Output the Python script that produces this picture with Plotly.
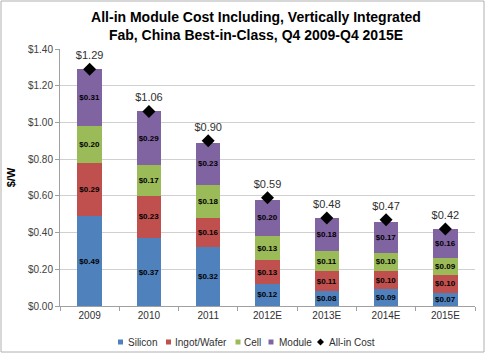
import plotly.graph_objects as go

years = ["2009", "2010", "2011", "2012E", "2013E", "2014E", "2015E"]
silicon = [0.49, 0.37, 0.32, 0.12, 0.08, 0.09, 0.07]
ingot = [0.29, 0.23, 0.16, 0.13, 0.11, 0.10, 0.10]
cell = [0.20, 0.17, 0.18, 0.13, 0.11, 0.10, 0.09]
module = [0.31, 0.29, 0.23, 0.20, 0.18, 0.17, 0.16]
allin = [1.29, 1.06, 0.90, 0.59, 0.48, 0.47, 0.42]

series = [("Silicon", silicon, "#4F81BD"), ("Ingot/Wafer", ingot, "#C0504D"),
          ("Cell", cell, "#9BBB59"), ("Module", module, "#8064A2")]

FONT = "Liberation Sans, Arial, sans-serif"
W, H = 486, 354
L, R, T, B = 60, 11, 49, 48
PW, PH = W - L - R, H - T - B

def px(x):
    return (x - L) / PW

def py(y):
    return (H - B - y) / PH

fig = go.Figure()
for name, vals, col in series:
    fig.add_trace(go.Bar(
        x=years, y=vals, name=name, marker=dict(color=col, line=dict(width=0)),
        text=[f"${v:.2f}" for v in vals], textposition="inside",
        insidetextanchor="middle", textangle=0, constraintext="none",
        textfont=dict(size=8, color="black", family=FONT, weight="bold"),
        hoverinfo="skip", showlegend=False))

fig.add_trace(go.Scatter(
    x=years, y=allin, name="All-in Cost", mode="markers+text",
    marker=dict(symbol="diamond", size=10, color="black"),
    text=[f"${v:.2f}" for v in allin], textposition="top center",
    textfont=dict(size=11, color="#303030", family=FONT), showlegend=False))

# custom compact legend (Excel style)
legend_items = [("Silicon", "#4F81BD", 120.5, 126), ("Ingot/Wafer", "#C0504D", 168.5, 173),
                ("Cell", "#9BBB59", 238, 242), ("Module", "#8064A2", 271, 277)]
shapes = []
annotations = []
LY = 342
for name, col, cx, tx in legend_items:
    shapes.append(dict(type="rect", xref="paper", yref="paper",
                       x0=px(cx - 2.5), x1=px(cx + 2.5), y0=py(LY + 2.5), y1=py(LY - 2.5),
                       fillcolor=col, line=dict(width=0)))
    annotations.append(dict(text=name, xref="paper", yref="paper", x=px(tx), y=py(LY),
                            xanchor="left", yanchor="middle", showarrow=False,
                            font=dict(size=10, color="#303030", family=FONT)))
dx, dy = 320.5, LY
shapes.append(dict(type="path", xref="paper", yref="paper",
                   path=f"M {px(dx)} {py(dy-3.5)} L {px(dx+3.5)} {py(dy)} L {px(dx)} {py(dy+3.5)} L {px(dx-3.5)} {py(dy)} Z",
                   fillcolor="black", line=dict(width=0)))
annotations.append(dict(text="All-in Cost", xref="paper", yref="paper", x=px(327), y=py(LY),
                        xanchor="left", yanchor="middle", showarrow=False,
                        font=dict(size=10, color="#303030", family=FONT)))
# outer border
shapes.append(dict(type="rect", xref="paper", yref="paper",
                   x0=px(1), x1=px(484), y0=py(352), y1=py(1),
                   line=dict(color="#B0B0B0", width=1)))

fig.update_layout(
    barmode="stack", bargap=0.59,
    width=W, height=H,
    margin=dict(l=L, r=R, t=T, b=B),
    paper_bgcolor="white", plot_bgcolor="white",
    font=dict(family=FONT, color="#404040", size=10),
    title=dict(text="<b>All-in Module Cost Including, Vertically Integrated<br>Fab, China Best-in-Class, Q4 2009-Q4 2015E</b>",
               x=256/W, xanchor="center", xref="container",
               y=1 - 22/H, yanchor="middle", yref="container",
               font=dict(size=14, color="#000000", family=FONT)),
    showlegend=False,
    yaxis=dict(range=[0, 1.4], dtick=0.2, tickformat="$.2f",
               showgrid=True, gridcolor="#D0D0D0", gridwidth=1,
               showline=True, linecolor="#A0A0A0", ticks="outside", ticklen=4,
               tickcolor="#A0A0A0", zeroline=False,
               tickfont=dict(size=10, color="#404040"),
               title=dict(text="<b>$/W</b>", font=dict(size=11, color="#000000"), standoff=10)),
    xaxis=dict(showline=True, linecolor="#A0A0A0", ticks="outside", ticklen=4,
               tickcolor="#A0A0A0", tickson="boundaries",
               tickfont=dict(size=10, color="#303030")),
    shapes=shapes,
    annotations=annotations,
)

fig.write_html("out.html")
